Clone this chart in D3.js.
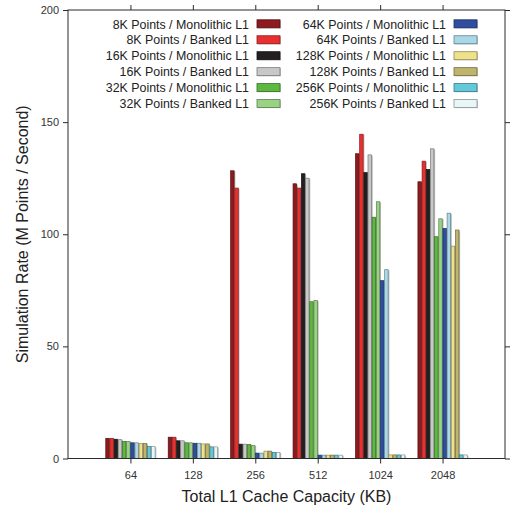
<!DOCTYPE html>
<html>
<head>
<meta charset="utf-8">
<script src="https://cdn.jsdelivr.net/npm/d3@7"></script>
<style>
  html, body { margin: 0; padding: 0; background: #fff; }
  svg { display: block; font-family: "Liberation Sans", Arial, sans-serif; }
</style>
</head>
<body>
<svg id="chart" width="513" height="510"></svg>
<script>
// L1 cache capacities (KB) on the x axis
const capacities = ["64", "128", "256", "512", "1024", "2048"];

// Series: problem size / L1 organisation
const seriesNames = [
  "8K Points / Monolithic L1", "8K Points / Banked L1",
  "16K Points / Monolithic L1", "16K Points / Banked L1",
  "32K Points / Monolithic L1", "32K Points / Banked L1",
  "64K Points / Monolithic L1", "64K Points / Banked L1",
  "128K Points / Monolithic L1", "128K Points / Banked L1",
  "256K Points / Monolithic L1", "256K Points / Banked L1"
];

const seriesColors = [
  "#8c1a1f", "#e8302f",
  "#231f20", "#c8c8c8",
  "#5cb83f", "#9ad283",
  "#2f4ea0", "#a9d8e8",
  "#efe08a", "#bfb46c",
  "#62c8da", "#e8f6f8"
];

// Simulation rate (M points / second), one array per capacity, in series order
const rate64   = [9.0, 9.0, 8.6, 8.4, 7.6, 7.6, 7.0, 7.0, 6.7, 6.7, 5.3, 5.3];
const rate128  = [9.5, 9.5, 7.9, 7.9, 7.0, 7.0, 6.8, 6.8, 6.5, 6.5, 5.2, 5.2];
const rate256  = [128.3, 120.6, 6.4, 6.4, 6.2, 5.8, 2.4, 2.4, 3.3, 3.3, 2.7, 2.7];
const rate512  = [122.5, 120.6, 127.0, 125.0, 69.9, 70.4, 1.5, 1.5, 1.5, 1.5, 1.5, 1.5];
const rate1024 = [135.9, 144.6, 127.5, 135.4, 107.6, 114.5, 79.3, 84.2, 1.6, 1.6, 1.6, 1.6];
const rate2048 = [123.4, 132.6, 128.9, 138.1, 98.9, 106.9, 102.6, 109.4, 94.7, 101.9, 1.6, 1.6];
const rates = [rate64, rate128, rate256, rate512, rate1024, rate2048];

const yTicks = [0, 50, 100, 150, 200];

const svg = d3.select("#chart");
const plotLeft = 68, plotRight = 505, plotTop = 10, plotBottom = 458.5;
const axisColor = "#2b2b2b";

const x = d3.scaleLinear().domain([0, capacities.length + 1]).range([plotLeft, plotRight]);
const y = d3.scaleLinear().domain([0, 200]).range([plotBottom, plotTop]);
const groupWidth = 50;
const xb = d3.scaleBand().domain(d3.range(seriesNames.length))
  .range([-groupWidth / 2, groupWidth / 2]).padding(0);

// Bars
const groups = svg.append("g").selectAll("g")
  .data(rates)
  .join("g")
  .attr("transform", (d, i) => `translate(${x(i + 1)},0)`);

groups.selectAll("rect.shadow")
  .data(d => d.map((v, k) => ({ v, k })))
  .join("rect")
  .attr("class", "shadow")
  .attr("x", d => xb(d.k) + 0.9)
  .attr("y", d => y(d.v) + 0.6)
  .attr("width", xb.bandwidth())
  .attr("height", d => plotBottom - y(d.v) - 0.6)
  .attr("fill", "#b8b8b8");

groups.selectAll("rect.bar")
  .data(d => d.map((v, k) => ({ v, k })))
  .join("rect")
  .attr("class", "bar")
  .attr("x", d => xb(d.k) + 0.35)
  .attr("y", d => y(d.v))
  .attr("width", xb.bandwidth() - 0.7)
  .attr("height", d => plotBottom - y(d.v))
  .attr("fill", d => seriesColors[d.k])
  .attr("stroke", d => d3.color(seriesColors[d.k]).darker(1.4).formatHex())
  .attr("stroke-width", 0.7);

// Frame
svg.append("rect")
  .attr("x", plotLeft).attr("y", plotTop)
  .attr("width", plotRight - plotLeft).attr("height", plotBottom - plotTop)
  .attr("fill", "none").attr("stroke", axisColor).attr("stroke-width", 1);

// Left axis
const yAxisL = svg.append("g").attr("transform", `translate(${plotLeft},0)`)
  .call(d3.axisLeft(y).tickValues(yTicks).tickSize(5).tickPadding(4));
// Right axis
const yAxisR = svg.append("g").attr("transform", `translate(${plotRight},0)`)
  .call(d3.axisRight(y).tickValues(yTicks).tickSize(5).tickFormat(""));
// Bottom axis
const catTicks = d3.range(1, capacities.length + 1);
const xAxisB = svg.append("g").attr("transform", `translate(0,${plotBottom})`)
  .call(d3.axisBottom(x).tickValues(catTicks).tickSize(5).tickPadding(8)
    .tickFormat(d => capacities[d - 1]));
// Top axis
const xAxisT = svg.append("g").attr("transform", `translate(0,${plotTop})`)
  .call(d3.axisTop(x).tickValues(catTicks).tickSize(5).tickFormat(""));

[yAxisL, yAxisR, xAxisB, xAxisT].forEach(g => {
  g.select(".domain").remove();
  g.selectAll(".tick line").attr("stroke", axisColor);
  g.selectAll("text")
    .attr("font-family", "Liberation Sans, Arial, sans-serif")
    .attr("font-size", 11)
    .attr("fill", "#333");
});

// Axis titles
svg.append("text")
  .attr("x", (plotLeft + plotRight) / 2).attr("y", 502)
  .attr("text-anchor", "middle")
  .attr("font-size", 16).attr("fill", "#222")
  .text("Total L1 Cache Capacity (KB)");

svg.append("text")
  .attr("transform", `translate(28,${(plotTop + plotBottom) / 2}) rotate(-90)`)
  .attr("text-anchor", "middle")
  .attr("font-size", 16).attr("fill", "#222")
  .text("Simulation Rate (M Points / Second)");

// Legend: two columns of six entries
const legendCols = [{ textEnd: 249, swatchX: 257 }, { textEnd: 446, swatchX: 454 }];
const legend = svg.append("g");
seriesNames.forEach((name, k) => {
  const col = k < 6 ? 0 : 1;
  const row = k % 6;
  const cy = 24 + row * 15.95;
  const c = legendCols[col];
  legend.append("text")
    .attr("x", c.textEnd).attr("y", cy + 4.5)
    .attr("text-anchor", "end")
    .attr("font-size", 12.4).attr("fill", "#222")
    .text(name);
  legend.append("rect")
    .attr("x", c.swatchX + 0.8).attr("y", cy - 3.6)
    .attr("width", 23).attr("height", 8)
    .attr("fill", "#b8b8b8");
  legend.append("rect")
    .attr("x", c.swatchX).attr("y", cy - 4.2)
    .attr("width", 23).attr("height", 8)
    .attr("fill", seriesColors[k])
    .attr("stroke", d3.color(seriesColors[k]).darker(1.4).formatHex())
    .attr("stroke-width", 0.8);
});
</script>
</body>
</html>
